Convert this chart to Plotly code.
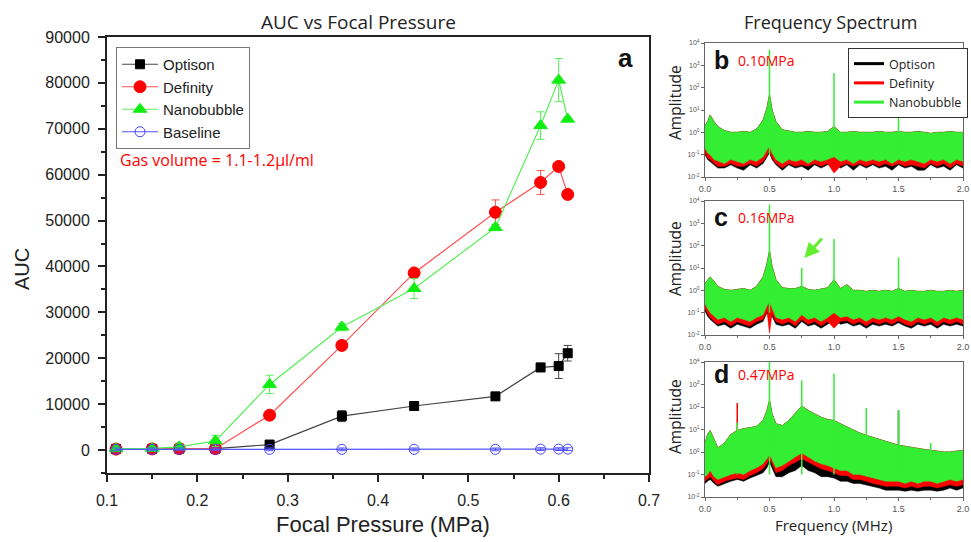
import plotly.graph_objs as go

# ------------------------ Part 1: data ------------------------

# ----- panel a: AUC vs focal pressure -----
PRESSURE = [0.11, 0.15, 0.18, 0.22, 0.28, 0.36, 0.44, 0.53, 0.58, 0.60, 0.61]
OPTISON = [250, 250, 300, 300, 1200, 7400, 9600, 11700, 18000, 18300, 21100]
OPTISON_ERR = [150, 150, 150, 300, 500, 1200, 400, 300, 900, 2700, 1700]
DEFINITY = [200, 250, 300, 300, 7600, 22800, 38600, 51800, 58300, 61800, 55700]
DEFINITY_ERR = [150, 150, 150, 200, 400, 600, 400, 2700, 2600, 700, 600]
NANOBUBBLE = [300, 350, 700, 2000, 14300, 26800, 35200, 48500, 70700, 80600, 72100]
NANOBUBBLE_ERR = [200, 200, 400, 1200, 2000, 800, 2200, 700, 3000, 4700, 500]
BASELINE = [150, 150, 150, 150, 150, 150, 150, 150, 200, 200, 200]
BASELINE_ERR = [300, 300, 300, 300, 300, 300, 300, 300, 300, 300, 300]

# ----- panels b, c, d: spectrum envelopes (amplitude, log axis) -----
FREQ = [0.00, 0.02, 0.04, 0.07, 0.10, 0.15, 0.20, 0.25, 0.30, 0.35, 0.40, 0.45, 0.48, 0.50, 0.52,
        0.55, 0.60, 0.65, 0.70, 0.75, 0.80, 0.85, 0.90, 0.95, 1.00, 1.05, 1.10, 1.15, 1.20, 1.25,
        1.30, 1.35, 1.40, 1.45, 1.50, 1.55, 1.60, 1.65, 1.70, 1.75, 1.80, 1.85, 1.90, 1.95, 2.00]
AMP_TICKS = [0.01, 0.1, 1, 10, 100, 1000, 10000]
AMP_TICK_TEXT = ['10<sup>-2</sup>', '10<sup>-1</sup>', '10<sup>0</sup>', '10<sup>1</sup>',
                 '10<sup>2</sup>', '10<sup>3</sup>', '10<sup>4</sup>']

# b  (0.10 MPa)
B_TOP = [2.0, 3.0, 6.0, 3.0, 1.8, 1.2, 1.0, 1.0, 1.1, 1.0, 1.4, 3.5, 12, 50, 10,
         3.0, 1.3, 1.1, 1.0, 1.0, 1.1, 1.0, 1.0, 1.1, 1.8, 1.0, 1.0, 1.1, 1.0, 1.0,
         1.0, 1.1, 1.0, 1.0, 1.1, 1.0, 1.0, 1.1, 1.0, 0.9, 1.0, 1.0, 1.1, 1.0, 1.0]
B_GREEN_LOW = [0.20, 0.12, 0.10, 0.06, 0.05, 0.04, 0.06, 0.05, 0.04, 0.06, 0.05, 0.08, 0.15, 0.25, 0.12,
               0.06, 0.04, 0.06, 0.05, 0.06, 0.04, 0.06, 0.05, 0.06, 0.08, 0.05, 0.06, 0.04, 0.06, 0.05,
               0.06, 0.05, 0.06, 0.04, 0.06, 0.05, 0.06, 0.05, 0.04, 0.06, 0.05, 0.06, 0.04, 0.06, 0.05]
B_RED_LOW = [0.12, 0.07, 0.06, 0.04, 0.03, 0.03, 0.04, 0.03, 0.03, 0.04, 0.03, 0.05, 0.09, 0.15, 0.07,
             0.04, 0.025, 0.04, 0.03, 0.035, 0.03, 0.04, 0.03, 0.04, 0.015, 0.03, 0.04, 0.03, 0.04, 0.03,
             0.04, 0.03, 0.04, 0.03, 0.04, 0.03, 0.035, 0.03, 0.025, 0.04, 0.03, 0.04, 0.025, 0.04, 0.03]
B_BLACK_LOW = [0.10, 0.06, 0.05, 0.035, 0.025, 0.025, 0.035, 0.025, 0.02, 0.035, 0.025, 0.04, 0.08, 0.12, 0.06,
               0.035, 0.02, 0.035, 0.025, 0.03, 0.02, 0.035, 0.025, 0.035, 0.04, 0.025, 0.035, 0.02, 0.035, 0.025,
               0.035, 0.025, 0.03, 0.02, 0.035, 0.025, 0.03, 0.02, 0.02, 0.035, 0.025, 0.03, 0.02, 0.035, 0.025]
B_GREEN_SPIKE_F = [0.5, 1.0, 1.5]
B_GREEN_SPIKE_A = [5000, 450, 25]

# c  (0.16 MPa)
C_TOP = [2.0, 3.0, 4.0, 2.5, 1.5, 1.1, 1.0, 1.1, 1.2, 1.0, 1.5, 4.0, 15, 60, 12,
         3.0, 1.3, 1.2, 1.2, 1.5, 1.1, 1.0, 1.1, 1.3, 3.0, 1.2, 1.8, 1.0, 1.0, 0.9,
         1.0, 0.9, 1.0, 0.9, 1.2, 0.9, 1.0, 0.9, 0.9, 1.0, 0.9, 0.9, 1.0, 0.9, 1.0]
C_GREEN_LOW = [0.25, 0.15, 0.10, 0.07, 0.05, 0.06, 0.04, 0.06, 0.05, 0.04, 0.06, 0.08, 0.2, 0.3, 0.15,
               0.06, 0.05, 0.06, 0.04, 0.08, 0.05, 0.06, 0.04, 0.06, 0.10, 0.06, 0.07, 0.05, 0.06, 0.04,
               0.06, 0.05, 0.06, 0.05, 0.07, 0.05, 0.04, 0.06, 0.05, 0.06, 0.04, 0.06, 0.05, 0.06, 0.05]
C_RED_LOW = [0.15, 0.09, 0.06, 0.04, 0.03, 0.04, 0.025, 0.04, 0.03, 0.025, 0.04, 0.05, 0.12, 0.012, 0.09,
             0.04, 0.03, 0.04, 0.025, 0.05, 0.03, 0.04, 0.025, 0.04, 0.02, 0.04, 0.045, 0.03, 0.04, 0.025,
             0.04, 0.03, 0.04, 0.03, 0.045, 0.03, 0.025, 0.04, 0.03, 0.04, 0.025, 0.04, 0.03, 0.04, 0.03]
C_BLACK_LOW = [0.12, 0.07, 0.05, 0.035, 0.025, 0.03, 0.02, 0.03, 0.025, 0.02, 0.03, 0.04, 0.1, 0.05, 0.07,
               0.03, 0.025, 0.03, 0.02, 0.04, 0.025, 0.03, 0.02, 0.03, 0.05, 0.03, 0.035, 0.025, 0.03, 0.02,
               0.03, 0.025, 0.03, 0.025, 0.035, 0.025, 0.02, 0.03, 0.025, 0.03, 0.02, 0.03, 0.025, 0.03, 0.025]
C_GREEN_SPIKE_F = [0.5, 0.75, 1.0, 1.5]
C_GREEN_SPIKE_A = [7000, 10, 200, 30]

# d  (0.47 MPa)
D_TOP = [2.5, 6.0, 9.0, 4.0, 1.5, 2.5, 6.0, 9.0, 11, 12, 14, 25, 70, 200, 50,
         18, 15, 25, 55, 110, 70, 50, 35, 28, 25, 18, 13, 10, 7.0, 5.5,
         4.5, 3.5, 3.0, 2.5, 2.0, 1.8, 1.6, 1.4, 1.3, 1.2, 1.1, 1.0, 1.0, 1.1, 1.2]
D_GREEN_LOW = [0.08, 0.10, 0.15, 0.08, 0.06, 0.08, 0.10, 0.12, 0.10, 0.15, 0.20, 0.30, 0.50, 0.80, 0.50,
               0.20, 0.25, 0.40, 0.60, 0.90, 0.60, 0.40, 0.30, 0.25, 0.20, 0.15, 0.15, 0.10, 0.10, 0.08,
               0.07, 0.06, 0.05, 0.05, 0.05, 0.04, 0.05, 0.04, 0.05, 0.05, 0.04, 0.05, 0.06, 0.05, 0.06]
D_RED_LOW = [0.05, 0.06, 0.08, 0.05, 0.035, 0.05, 0.06, 0.07, 0.06, 0.09, 0.12, 0.18, 0.30, 0.50, 0.30,
             0.12, 0.15, 0.25, 0.35, 0.50, 0.35, 0.25, 0.18, 0.15, 0.12, 0.09, 0.09, 0.06, 0.06, 0.05,
             0.04, 0.035, 0.03, 0.03, 0.03, 0.025, 0.03, 0.025, 0.03, 0.03, 0.025, 0.03, 0.035, 0.03, 0.035]
D_BLACK_LOW = [0.04, 0.05, 0.06, 0.04, 0.03, 0.04, 0.05, 0.06, 0.05, 0.07, 0.09, 0.12, 0.20, 0.35, 0.20,
               0.08, 0.08, 0.12, 0.15, 0.25, 0.15, 0.12, 0.08, 0.08, 0.07, 0.05, 0.05, 0.04, 0.04, 0.035,
               0.03, 0.025, 0.02, 0.02, 0.02, 0.018, 0.02, 0.018, 0.02, 0.02, 0.018, 0.02, 0.025, 0.02, 0.025]
D_GREEN_SPIKE_F = [0.25, 0.5, 0.75, 1.0, 1.25, 1.5, 1.75]
D_GREEN_SPIKE_A = [20, 10000, 1500, 3000, 90, 70, 2.5]
D_RED_SPIKE_F = [0.25]
D_RED_SPIKE_A = [150]
D_BLACK_SPIKE_F = [1.5]
D_BLACK_SPIKE_A = [70]

# ------------------------ Part 2: drawing ------------------------
W, H = 971, 542


def px(x):  # pixel -> paper x
    return x / W


def py(y):  # pixel -> paper y
    return 1 - y / H


GREEN = '#33ee33'
fig = go.Figure()

# --- panel a
series = [('Optison', OPTISON, OPTISON_ERR, '#000000', '#444444', 'square', 9),
          ('Definity', DEFINITY, DEFINITY_ERR, '#ff0000', '#ff5050', 'circle', 12),
          ('Nanobubble', NANOBUBBLE, NANOBUBBLE_ERR, '#11ee11', '#55ee55', 'triangle-up', 12),
          ('Baseline', BASELINE, BASELINE_ERR, '#4444ff', '#5555ff', 'circle-open', 10)]
for name, vals, errs, mcol, lcol, sym, size in series:
    fig.add_trace(go.Scatter(
        x=PRESSURE, y=vals, name=name, mode='lines+markers',
        line=dict(color=lcol, width=1.2),
        marker=dict(color=mcol, symbol=sym, size=size, line=dict(color=mcol, width=1)),
        error_y=dict(type='data', array=errs, color=lcol, thickness=1, width=4),
        xaxis='x', yaxis='y', legend='legend'))


# --- panels b, c, d
def spikes(freqs, amps):
    xs, ys = [], []
    for f, a in zip(freqs, amps):
        xs += [f, f, None]
        ys += [0.1, a, None]
    return xs, ys


def band(top, low, color, ax):
    fig.add_trace(go.Scatter(
        x=FREQ + FREQ[::-1], y=top + low[::-1], fill='toself', fillcolor=color,
        mode='lines', line=dict(color=color, width=0.5), hoverinfo='skip',
        showlegend=False, xaxis='x' + ax, yaxis='y' + ax))


def spike_trace(freqs, amps, color, ax):
    xs, ys = spikes(freqs, amps)
    fig.add_trace(go.Scatter(x=xs, y=ys, mode='lines', line=dict(color=color, width=1.5),
                             showlegend=False, xaxis='x' + ax, yaxis='y' + ax))


panels = [('2', B_TOP, B_GREEN_LOW, B_RED_LOW, B_BLACK_LOW),
          ('3', C_TOP, C_GREEN_LOW, C_RED_LOW, C_BLACK_LOW),
          ('4', D_TOP, D_GREEN_LOW, D_RED_LOW, D_BLACK_LOW)]
for ax, top, glow, rlow, klow in panels:
    band(top, klow, '#000000', ax)
    band(top, rlow, '#ff0000', ax)
    if ax == '4':
        spike_trace(D_RED_SPIKE_F, D_RED_SPIKE_A, '#ff0000', ax)
        spike_trace(D_BLACK_SPIKE_F, D_BLACK_SPIKE_A, '#000000', ax)
    band(top, glow, GREEN, ax)
spike_trace(B_GREEN_SPIKE_F, B_GREEN_SPIKE_A, GREEN, '2')
spike_trace(C_GREEN_SPIKE_F, C_GREEN_SPIKE_A, GREEN, '3')
spike_trace(D_GREEN_SPIKE_F, D_GREEN_SPIKE_A, GREEN, '4')

# legend entries for the spectrum panel
for name, col in [('Optison', '#000000'), ('Definity', '#ff0000'), ('Nanobubble', GREEN)]:
    fig.add_trace(go.Scatter(x=[None], y=[None], mode='lines', name=name,
                             line=dict(color=col, width=3), xaxis='x2', yaxis='y2',
                             legend='legend2'))

# --- axes
main_ax = dict(showline=True, linewidth=2, linecolor='#222222', mirror=True, showgrid=False,
               zeroline=False, ticks='outside', ticklen=7, tickwidth=1.5, tickcolor='#222222',
               ticklabelstandoff=5, tickfont=dict(family='Arial', size=16, color='#222222'))
spec_x = dict(range=[0, 2], dtick=0.5, tick0=0, tickformat='.1f', showline=True, linewidth=1,
              linecolor='#666666', mirror=True, showgrid=False, zeroline=False, ticks='outside',
              ticklen=3, tickcolor='#666666', minor=dict(ticks='outside', ticklen=2, dtick=0.25),
              tickfont=dict(family='Arial', size=9, color='#555555'))
spec_y = dict(type='log', range=[-2, 4], tickvals=AMP_TICKS, ticktext=AMP_TICK_TEXT,
              showline=True, linewidth=1, linecolor='#666666', mirror=True, showgrid=False,
              zeroline=False, ticks='outside', ticklen=3, tickcolor='#666666',
              tickfont=dict(family='Arial', size=7, color='#555555'))

fig.update_layout(
    width=W, height=H, margin=dict(l=0, r=0, t=0, b=0, autoexpand=False),
    paper_bgcolor='white', plot_bgcolor='white',
    xaxis=dict(main_ax, domain=[px(107), px(649)], range=[0.1, 0.7], dtick=0.1, tick0=0.1,
               minor=dict(ticks='outside', ticklen=4, dtick=0.05, tickcolor='#222222'), anchor='y'),
    yaxis=dict(main_ax, domain=[py(473), py(37)], range=[-5000, 90000], dtick=10000, tick0=0,
               tickformat='d', minor=dict(ticks='outside', ticklen=4, dtick=5000, tickcolor='#222222'),
               anchor='x'),
    xaxis2=dict(spec_x, domain=[px(705), px(963)], anchor='y2'),
    yaxis2=dict(spec_y, domain=[py(177), py(43)], anchor='x2'),
    xaxis3=dict(spec_x, domain=[px(705), px(963)], anchor='y3'),
    yaxis3=dict(spec_y, domain=[py(335), py(201)], anchor='x3'),
    xaxis4=dict(spec_x, domain=[px(705), px(963)], anchor='y4'),
    yaxis4=dict(spec_y, domain=[py(497), py(362)], anchor='x4'),
    legend=dict(x=px(116), y=py(47), xanchor='left', yanchor='top', bgcolor='white',
                bordercolor='#777777', borderwidth=1, tracegroupgap=0, itemwidth=36,
                font=dict(family='Arial', size=15, color='#222222')),
    legend2=dict(x=px(848), y=py(48), xanchor='left', yanchor='top', bgcolor='white',
                 bordercolor='#333333', borderwidth=1, tracegroupgap=0, itemwidth=30,
                 font=dict(family='Open Sans', size=12.5, color='#222222')),
    showlegend=True,
)

# --- texts
def note(text, x, y, size, color='#222222', family='Open Sans', anchor='center', bold=False, angle=0):
    fig.add_annotation(text='<b>%s</b>' % text if bold else text, xref='paper', yref='paper',
                       x=px(x), y=py(y), xanchor=anchor, yanchor='middle', showarrow=False,
                       textangle=angle, font=dict(family=family, size=size, color=color))


note('AUC vs Focal Pressure', 358, 22, 19)
note('Frequency Spectrum', 830, 22, 18)
note('Focal Pressure (MPa)', 383, 524, 22, family='Arial')
note('AUC', 22, 269, 20, family='Arial', angle=-90)
note('a', 625, 58, 26, color='#111111', family='Arial', bold=True)
note('Gas volume = 1.1-1.2μl/ml', 118, 160, 16, color='#ff0000', anchor='left')
for letter, label, y, ymid in [('b', '0.10MPa', 60, 103), ('c', '0.16MPa', 217, 259),
                               ('d', '0.47MPa', 374, 417)]:
    note(letter, 721, y, 25, color='#111111', family='Arial', bold=True)
    note(label, 736, y, 14, color='#ff0000', anchor='left')
    note('Amplitude', 675, ymid, 15.5, angle=-90)
note('Frequency (MHz)', 833, 525, 15)

# arrow pointing to the subharmonic in panel c
fig.add_annotation(x=0.77, y=1.45, xref='x3', yref='y3', text='', showarrow=True,
                   arrowhead=2, arrowsize=1, arrowwidth=3, arrowcolor='#66ee33', ax=19, ay=-21)

# --- page has a default 8px body margin; drop it so the figure fills the window
fig.write_html('out.html', config={'displayModeBar': False},
               post_script="document.body.style.margin='0px';")
